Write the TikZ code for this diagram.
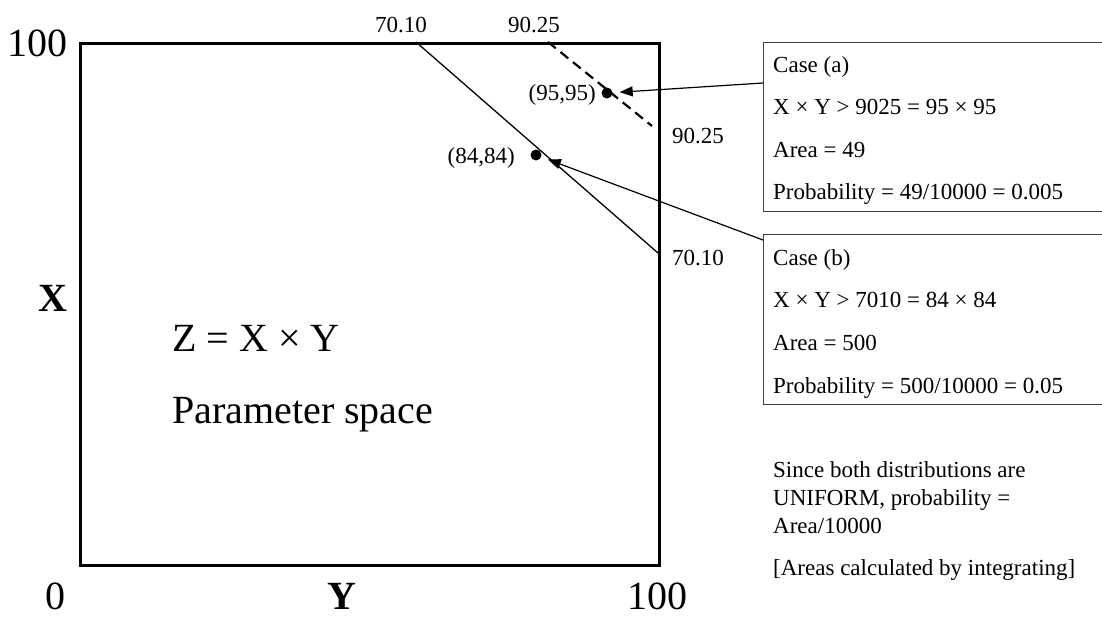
\documentclass[tikz,border=0pt]{standalone}
\usepackage{fontspec}
\setmainfont{Liberation Serif}
\usetikzlibrary{arrows.meta}
\begin{document}
\begin{tikzpicture}[x=1pt,y=-1pt,
  lab/.style={font=\fontsize{23}{27}\selectfont, inner sep=0pt},
  biglab/.style={font=\fontsize{40}{46}\selectfont, inner sep=0pt},
  boldlab/.style={font=\fontsize{40}{46}\selectfont\bfseries, inner sep=0pt},
  infobox/.style={draw=black!75, line width=1.4pt, minimum width=345pt, anchor=north west, inner sep=0pt},
  dotnode/.style={circle, fill=black, minimum size=11pt, inner sep=0pt},
  arr/.style={line width=1.2pt, -{Triangle[length=13pt,width=10pt]}, shorten >=7pt}
]
\useasboundingbox (0,0) rectangle (1102,619);
% parameter space square
\node[draw, line width=2.6pt, minimum width=579pt, minimum height=522pt, anchor=north west, inner sep=0pt] (sq) at (79,42) {};
% boundary lines
\coordinate (s1) at (416,42);
\coordinate (s2) at (658,253);
\coordinate (d1) at (548,42);
\coordinate (d2) at (652,126);
\draw[line width=1.3pt] (s1) -- (s2);
\draw[line width=2.2pt, dash pattern=on 10pt off 6pt] (d1) -- (d2);
% dots
\node[dotnode] (dota) at (607,93) {};
\node[dotnode] (dotb) at (536,155) {};
\node[lab, anchor=base east] (la) at (596,100) {(95,95)};
\node[lab, anchor=base east] (lb) at (515,163) {(84,84)};
% axis values
\node[lab, anchor=base] (t70) at (401,32) {70.10};
\node[lab, anchor=base] (t90) at (534,32) {90.25};
\node[lab, anchor=base west] (r90) at (672,143) {90.25};
\node[lab, anchor=base west] (r70) at (672,265) {70.10};
\node[biglab, anchor=base] (y100) at (37,56) {100};
\node[biglab, anchor=base] (x0) at (55,609) {0};
\node[boldlab, anchor=base] (ylab) at (342,609) {Y};
\node[biglab, anchor=base] (x100) at (657,609) {100};
\node[boldlab, anchor=base] (xlab) at (53,311) {X};
\node[biglab, anchor=base west] (zeq) at (172,351) {Z = X × Y};
\node[biglab, anchor=base west] (pspace) at (172,423) {Parameter space};
% case boxes
\node[infobox, minimum height=169pt] (boxa) at (763,42) {};
\node[lab, anchor=base west] (a1) at (773,72) {Case (a)};
\node[lab, anchor=base west] (a2) at (773,114) {X × Y > 9025 = 95 × 95};
\node[lab, anchor=base west] (a3) at (773,157) {Area = 49};
\node[lab, anchor=base west] (a4) at (773,199) {Probability = 49/10000 = 0.005};
\node[infobox, minimum height=170pt] (boxb) at (763,234) {};
\node[lab, anchor=base west] (b1) at (773,265) {Case (b)};
\node[lab, anchor=base west] (b2) at (773,307) {X × Y > 7010 = 84 × 84};
\node[lab, anchor=base west] (b3) at (773,350) {Area = 500};
\node[lab, anchor=base west] (b4) at (773,393) {Probability = 500/10000 = 0.05};
% arrows
\coordinate (aa) at (763,83);
\coordinate (bb) at (763,240);
\draw[arr] (aa) -- (dota);
\draw[arr] (bb) -- (dotb);
% notes
\node[lab, anchor=base west] (n1) at (773,477) {Since both distributions are};
\node[lab, anchor=base west] (n2) at (773,505) {UNIFORM, probability =};
\node[lab, anchor=base west] (n3) at (773,533) {Area/10000};
\node[lab, anchor=base west] (n4) at (773,575) {[Areas calculated by integrating]};
\end{tikzpicture}
\end{document}
